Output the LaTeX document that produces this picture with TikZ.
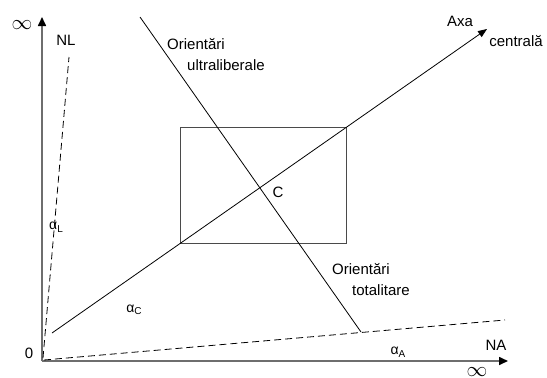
\documentclass[tikz,border=0pt]{standalone}
\usepackage{fontspec}
\setmainfont{Liberation Sans}
\usetikzlibrary{arrows.meta}
\definecolor{axisgray}{HTML}{6E6E6E}
\definecolor{boxgray}{HTML}{4A4A4A}
\tikzset{
  axis/.style={draw=axisgray,line width=1.6pt,-{Triangle[length=9pt,width=8pt,fill=black,color=black]}},
  dashline/.style={draw=black,line width=0.8pt,dash pattern=on 7pt off 4pt},
  thinline/.style={draw=black,line width=0.8pt},
  lbl/.style={inner sep=0pt,font=\fontsize{15}{18}\selectfont},
  inf/.style={inner sep=0pt,font=\fontsize{21}{21}\selectfont},
  alab/.style={inner sep=0pt,font=\fontsize{14}{16}\selectfont},
  twoline/.style={inner sep=0pt,align=left,font=\fontsize{15}{21}\selectfont}
}
\newcommand{\subl}[1]{\raisebox{-2.5pt}{\fontsize{10}{10}\selectfont #1}}
\begin{document}
\begin{tikzpicture}[x=1pt,y=-1pt]
\useasboundingbox (0,0) rectangle (547,378);
% coordinates
\coordinate (O) at (42,361);
\coordinate (Ytop) at (42,17);
\coordinate (Xend) at (508,361);
\coordinate (NLs) at (43,358);
\coordinate (NLe) at (69,57);
\coordinate (NAs) at (44,360);
\coordinate (NAe) at (505,320);
\coordinate (Cs) at (52,333);
\coordinate (Ce) at (487,29);
\coordinate (Us) at (140,17);
\coordinate (Ue) at (361,332);
\coordinate (B1) at (180,243);
\coordinate (B2) at (346,127);
% box
\draw[draw=boxgray,line width=0.9pt] (B1) rectangle (B2);
% axes
\draw[axis] (O) -- (Ytop);
\draw[axis] (O) -- (Xend);
% dashed lines
\draw[dashline] (NLs) -- (NLe);
\draw[dashline] (NAs) -- (NAe);
% central axis
\draw[thinline,-{Triangle[length=9pt,width=7pt]}] (Cs) -- (Ce);
% ultraliberal / totalitarian line
\draw[thinline] (Us) -- (Ue);
% labels
\node[inf] (inftop) at (22,25) {$\infty$};
\node[inf] (infbot) at (477,372) {$\infty$};
\node[lbl] (nl) at (66,40) {NL};
\node[lbl] (na) at (496,345) {NA};
\node[lbl] (zero) at (29,353) {0};
\node[lbl] (axa) at (460,21) {Axa};
\node[lbl] (centr) at (516,41) {centrală};
\node[lbl] (c) at (278,192) {C};
\node[twoline,anchor=north west] (ultra) at (167,38) {Orientări\\\hspace*{20pt}ultraliberale};
\node[twoline,anchor=north west] (total) at (332,263) {Orientări\\\hspace*{20pt}totalitare};
\node[alab] (aL) at (56,227) {α\subl{L}};
\node[alab] (aC) at (134,310) {α\subl{C}};
\node[alab] (aA) at (398,352) {α\subl{A}};
\end{tikzpicture}
\end{document}
